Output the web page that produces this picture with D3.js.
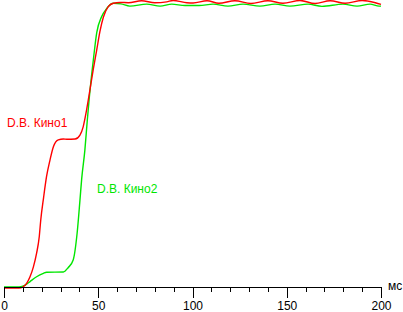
<!DOCTYPE html>
<html>
<head>
<meta charset="utf-8">
<script src="https://cdn.jsdelivr.net/npm/d3@7"></script>
<style>
  body { margin: 0; background: #fff; }
  text { font-family: Arial, "Liberation Sans", sans-serif; }
</style>
</head>
<body>
<div id="chart"></div>
<script>
// time (ms) and response (% of final level) for both series
const kino1Time = [0, 8, 10, 12, 13.8, 15.6, 17.3, 18.7, 19.5, 21, 22.6, 24.4, 26.2, 28.8, 31.5, 33.3, 37.7, 40.3, 42, 43.5, 44.7, 45.6, 47.4, 49.2, 50.9, 52.7, 55.3, 58, 61.5, 66, 73, 80, 86.3, 89.7, 97, 100.3, 107.7, 114, 122.5, 131, 140, 148, 157, 165, 173, 181, 190, 197, 200];
const kino1Val  = [-0.4, -0.4, 0, 1.3, 3.6, 7.1, 11.9, 17.7, 23.6, 31.5, 39, 44.7, 49.4, 51.8, 52.1, 52, 52.1, 53.5, 56.4, 61.2, 65.8, 69.5, 76.8, 83.5, 90, 95, 98.7, 99.9, 100.2, 100.1, 100.8, 100.1, 100.4, 100.9, 100.1, 100, 100.8, 99.9, 100.8, 99.8, 100.8, 99.9, 100.9, 99.8, 100.8, 99.9, 100.9, 100.1, 99.5];

const kino2Time = [0, 8, 10, 12, 13.8, 17.3, 20.9, 22.6, 31.5, 34, 36.7, 38.8, 40.3, 41.2, 42.9, 44.2, 45.3, 47.4, 49.2, 51.8, 54.5, 58, 62, 66.8, 75.7, 82.8, 89, 96, 103.5, 110.9, 118.8, 126.8, 135.8, 143.8, 151.7, 161.3, 168.7, 179.8, 187.3, 194.2, 199, 200];
const kino2Val  = [0, 0, 0.3, 1.0, 1.9, 3.6, 4.8, 5.2, 5.3, 6.8, 9.5, 19, 30.6, 38, 48.2, 58.8, 67, 80, 89.6, 95.2, 98.1, 99.9, 99.7, 98.9, 99.6, 98.9, 99.6, 99.1, 99.1, 99.6, 98.9, 99.6, 98.9, 99.6, 98.9, 99.6, 98.8, 99.6, 98.9, 99.6, 98.9, 98.9];

const seriesNames = ["D.B. Кино1", "D.B. Кино2"];
const majorTicks = [0, 50, 100, 150, 200];
const minorTicks = [10, 20, 30, 40, 60, 70, 80, 90, 110, 120, 130, 140, 160, 170, 180, 190];
const unitLabel = "мс";

const width = 403, height = 312;
const red = "#ff0000", green = "#00e600";

const svg = d3.select("#chart")
    .append("svg")
    .attr("width", width)
    .attr("height", height);

const x = d3.scaleLinear().domain([0, 200]).range([4, 381]);
const y = d3.scaleLinear().domain([0, 100]).range([287, 3]);

const line = d3.line()
    .x(d => x(d[0]))
    .y(d => y(d[1]))
    .curve(d3.curveMonotoneX);

const kino1 = kino1Time.map((t, i) => [t, kino1Val[i]]);
const kino2 = kino2Time.map((t, i) => [t, kino2Val[i]]);

// curves
svg.append("path")
    .datum(kino2)
    .attr("d", line)
    .attr("fill", "none")
    .attr("stroke", green)
    .attr("stroke-width", 1.4);

svg.append("path")
    .datum(kino1)
    .attr("d", line)
    .attr("fill", "none")
    .attr("stroke", red)
    .attr("stroke-width", 1.4);

// minor ticks
svg.append("g")
    .attr("transform", "translate(0,287)")
    .call(d3.axisBottom(x).tickValues(minorTicks).tickSize(5).tickSizeOuter(0).tickFormat(""))
    .call(g => g.select(".domain").remove());

// major ticks + labels
const xAxis = svg.append("g")
    .attr("transform", "translate(0,287)")
    .call(d3.axisBottom(x).tickValues(majorTicks).tickSize(11).tickSizeOuter(0).tickPadding(3));

svg.selectAll("g .tick line").attr("stroke", "#000").attr("shape-rendering", "crispEdges");
xAxis.select(".domain").attr("stroke", "#000").attr("shape-rendering", "crispEdges");
xAxis.selectAll("text")
    .attr("fill", "#000")
    .style("font-size", "12px")
    .style("font-family", "Arial, 'Liberation Sans', sans-serif");

svg.append("text")
    .attr("x", 388)
    .attr("y", 290)
    .attr("font-size", 12)
    .attr("fill", "#000")
    .text(unitLabel);

// series labels
svg.append("text")
    .attr("x", 7)
    .attr("y", 127)
    .attr("font-size", 12)
    .attr("fill", red)
    .text(seriesNames[0]);

svg.append("text")
    .attr("x", 97)
    .attr("y", 193)
    .attr("font-size", 12)
    .attr("fill", green)
    .text(seriesNames[1]);
</script>
</body>
</html>
